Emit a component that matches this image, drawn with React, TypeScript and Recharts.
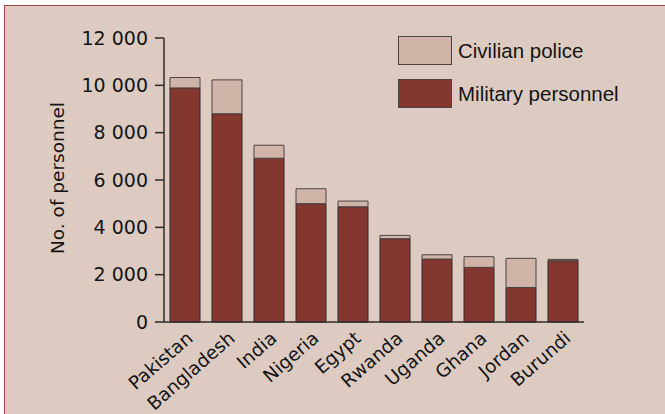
import React from 'react';
import { BarChart, Bar, XAxis, YAxis } from 'recharts';

const countries = ['Pakistan', 'Bangladesh', 'India', 'Nigeria', 'Egypt', 'Rwanda', 'Uganda', 'Ghana', 'Jordan', 'Burundi'];
const military = [9890, 8800, 6920, 5000, 4870, 3520, 2660, 2310, 1460, 2590];
const civilian = [440, 1430, 550, 630, 240, 140, 180, 450, 1230, 55];
const yTicks = [0, 2000, 4000, 6000, 8000, 10000, 12000];

const data = countries.map((c, i) => ({ name: c, military: military[i], civilian: civilian[i] }));

const BG = '#ddcbc1';
const MIL = '#84372f';
const CIV = '#d1b4a8';
const STROKE = '#2f2a2a';
const TEXT = '#141414';
const AXIS_FONT = '"DejaVu Sans", sans-serif';
const LEGEND_FONT = '"Liberation Sans", Arial, sans-serif';

const fmt = (v: number) => (v >= 1000 ? `${Math.floor(v / 1000)} ${String(v % 1000).padStart(3, '0')}` : String(v));

const XTick = (props: any) => {
  const { x, y, payload } = props;
  const px = x + 9;
  const py = y + 10;
  return (
    <text
      x={px}
      y={py}
      transform={`rotate(-41 ${px} ${py})`}
      textAnchor="end"
      fontFamily={AXIS_FONT}
      fontSize={18.5}
      fill={TEXT}
    >
      {payload.value}
    </text>
  );
};

const legendItems = [
  { label: 'Civilian police', color: CIV },
  { label: 'Military personnel', color: MIL },
];

const LegendBox = () => (
  <div style={{ position: 'absolute', left: 398, top: 36, display: 'flex', flexDirection: 'column', gap: 14 }}>
    {legendItems.map((it) => (
      <div key={it.label} style={{ display: 'flex', alignItems: 'center', height: 29 }}>
        <div
          style={{
            width: 52,
            height: 27,
            background: it.color,
            border: '1px solid #4a4444',
            marginRight: 6,
          }}
        />
        <span style={{ fontFamily: LEGEND_FONT, fontSize: 20.5, color: TEXT, lineHeight: '29px', whiteSpace: 'nowrap' }}>{it.label}</span>
      </div>
    ))}
  </div>
);

const YLabel = (props: any) => {
  const vb = props.viewBox || { x: 0, y: 0, width: 0, height: 0 };
  const cx = vb.x + 3;
  const cy = vb.y + vb.height / 2 - 2;
  return (
    <text
      x={cx}
      y={cy}
      transform={`rotate(-90 ${cx} ${cy})`}
      textAnchor="middle"
      dominantBaseline="central"
      fontFamily={AXIS_FONT}
      fontSize={18.5}
      fill={TEXT}
    >
      No. of personnel
    </text>
  );
};

export default function App() {
  return (
    <div style={{ position: 'absolute', left: 0, top: 0, width: 665, height: 414, background: '#ffffff', overflow: 'hidden' }}>
      <div
        style={{
          position: 'absolute',
          left: 4,
          top: 5,
          width: 700,
          height: 450,
          background: BG,
          borderTop: '1px solid #a9434a',
          borderLeft: '1px solid #a9434a',
        }}
      />
      <div style={{ position: 'absolute', left: 0, top: 0 }}>
        <BarChart width={665} height={414} data={data} margin={{ top: 38, right: 81, bottom: 2, left: 54 }}>
          <XAxis
            dataKey="name"
            tickLine={false}
            axisLine={{ stroke: STROKE, strokeWidth: 1.5 }}
            tick={<XTick />}
            height={90}
            interval={0}
          />
          <YAxis
            width={110}
            domain={[0, 12000]}
            ticks={yTicks}
            tickFormatter={fmt}
            tickSize={9}
            tickMargin={7}
            tickLine={{ stroke: STROKE, strokeWidth: 1.5 }}
            axisLine={{ stroke: STROKE, strokeWidth: 1.5 }}
            tick={{ fontFamily: AXIS_FONT, fontSize: 19, fill: TEXT }}
            label={<YLabel />}
            interval={0}
          />
          <Bar dataKey="military" stackId="a" fill={MIL} stroke={STROKE} strokeWidth={1} barSize={30} isAnimationActive={false} />
          <Bar dataKey="civilian" stackId="a" fill={CIV} stroke="#4a4444" strokeWidth={1} barSize={30} isAnimationActive={false} />
        </BarChart>
      </div>
      <LegendBox />
    </div>
  );
}
